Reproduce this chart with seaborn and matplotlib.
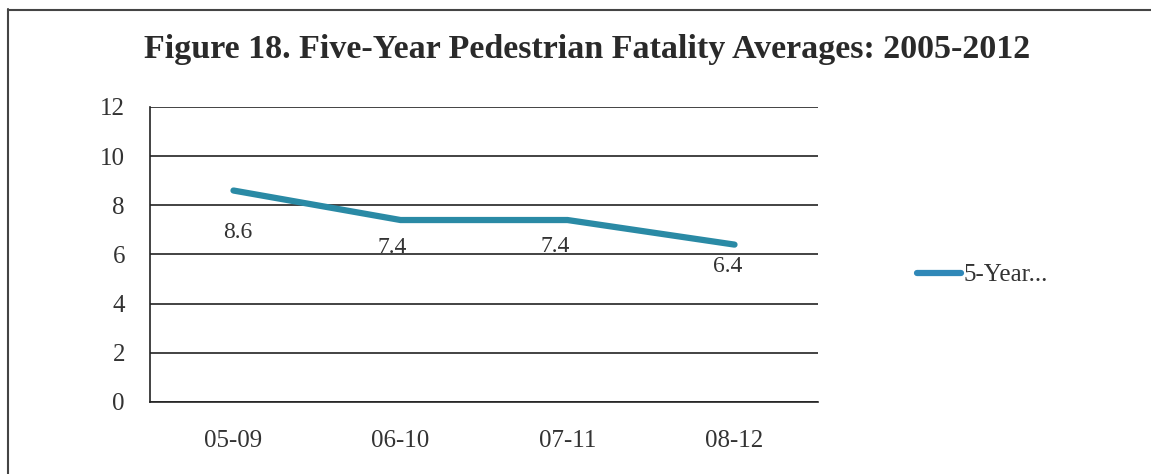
import matplotlib
matplotlib.use("Agg")
import matplotlib.pyplot as plt
import seaborn as sns
import pandas as pd
from matplotlib.lines import Line2D

periods = ["05-09", "06-10", "07-11", "08-12"]
averages = [8.6, 7.4, 7.4, 6.4]
series_name = "5-Year..."

# label offsets (points) as they sit in the scanned figure
label_dx = [3, -6, -9, -5]
label_dy = [-30, -20, -19, -16]

sns.set_theme(style="white")
plt.rcParams['font.family'] = ['Liberation Serif', 'DejaVu Serif']

df = pd.DataFrame({"pos": range(len(periods)), "avg": averages})

fig = plt.figure(figsize=(11.51, 4.74), dpi=100)
ax = fig.add_axes([0.1303, 0.152, 0.5804, 0.6224])

line_color = "#2a8aa5"
sns.lineplot(data=df, x="pos", y="avg", ax=ax, color=line_color, linewidth=4.5,
             solid_capstyle="round", legend=False)

for x, v, dx, dy in zip(df["pos"], df["avg"], label_dx, label_dy):
    ax.annotate(f"{v}", (x, v), xytext=(dx, dy), textcoords="offset points",
                ha="center", va="center", fontsize=17, color="#333333")

ax.set_xlim(-0.5, len(periods) - 0.5)
ax.set_ylim(0, 12)
ax.set_yticks(range(0, 13, 2))
ax.set_xticks([i - 0.5 for i in range(len(periods) + 1)])
ax.set_xticklabels([])
ax.set_xticks(range(len(periods)), minor=True)
ax.set_xticklabels(periods, minor=True)
ax.tick_params(axis="x", which="major", direction="out", length=6, width=1.2, color="#222222")
ax.tick_params(axis="x", which="minor", length=0, pad=20, labelsize=18, labelcolor="#333333")
ax.tick_params(axis="y", direction="out", length=6, width=1.2, color="#222222",
               labelsize=18, labelcolor="#333333", pad=12)
ax.grid(axis="y", color="#222222", linewidth=1.2)
ax.set_xlabel("")
ax.set_ylabel("")
for s in ["top", "right"]:
    ax.spines[s].set_visible(False)
for s in ["left", "bottom"]:
    ax.spines[s].set_color("#222222")
    ax.spines[s].set_linewidth(1.2)

handle = Line2D([0], [0], color="#3088b8", linewidth=4.5)
ax.legend([handle], [series_name], loc="center left", bbox_to_anchor=(1.115, 0.43),
          frameon=False, fontsize=18, handlelength=1.75, handletextpad=0.1,
          labelcolor="#333333")

fig.text(0.510, 0.896, "Figure 18. Five-Year Pedestrian Fatality Averages: 2005-2012",
         ha="center", va="center", fontsize=24.5, fontweight="bold", color="#2a2a2a")

# report frame
fig.add_artist(Line2D([0.007, 0.007], [0.0, 0.98], color="#444444", linewidth=1.5,
                      transform=fig.transFigure))
fig.add_artist(Line2D([0.007, 1.0], [0.978, 0.978], color="#444444", linewidth=1.5,
                      transform=fig.transFigure))

fig.savefig("out.png", dpi=100)
